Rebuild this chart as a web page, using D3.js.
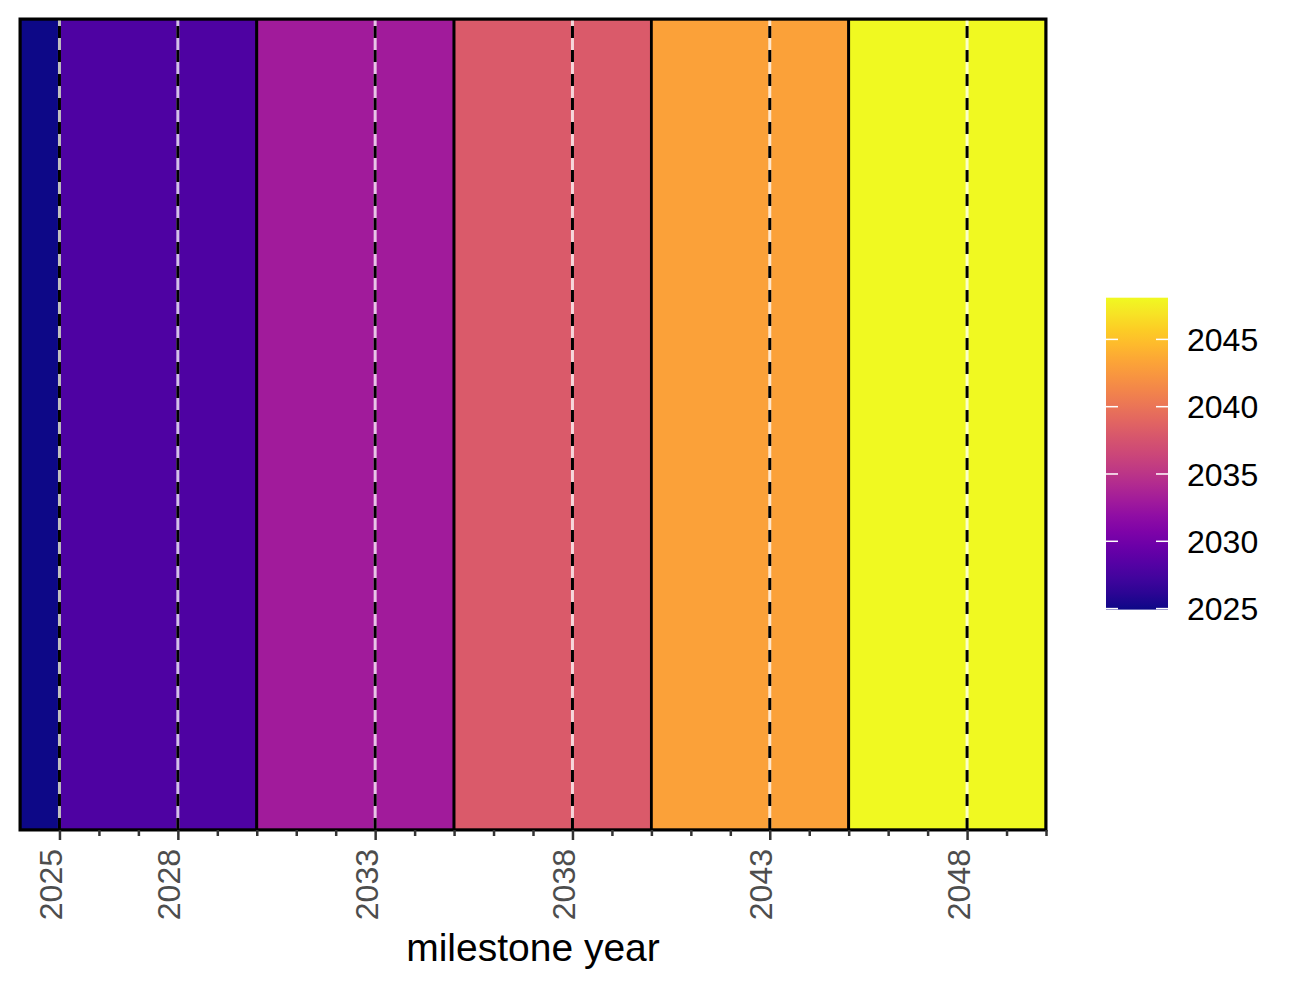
<!DOCTYPE html>
<html>
<head>
<meta charset="utf-8">
<script src="https://cdn.jsdelivr.net/npm/d3@7"></script>
<style>
  html, body { margin: 0; padding: 0; background: #fff; }
  svg { display: block; font-family: "Liberation Sans", Arial, sans-serif; }
</style>
</head>
<body>
<svg id="chart" width="1300" height="988"></svg>
<script>
// ---- data ----
const milestones   = [2025, 2028, 2033, 2038, 2043, 2048];
const periodStart  = [2024, 2025, 2030, 2035, 2040, 2045];
const periodEnd    = [2025, 2030, 2035, 2040, 2045, 2050];
const minorYears   = [2025, 2026, 2027, 2028, 2029, 2030, 2031, 2032, 2033, 2034, 2035, 2036, 2037,
                      2038, 2039, 2040, 2041, 2042, 2043, 2044, 2045, 2046, 2047, 2048, 2049, 2050];
const legendTicks  = [2025, 2030, 2035, 2040, 2045];
const xTitle = "milestone year";

// ---- layout ----
const P = { left: 20, right: 1046, top: 19, bottom: 830 };
const svg = d3.select("#chart");

const x = d3.scaleLinear().domain([2024, 2050]).range([P.left, P.right]);
const color = d3.scaleSequential(d3.interpolatePlasma).domain([2025, 2048]);

const tiles = milestones.map((m, i) => ({ m, s: periodStart[i], e: periodEnd[i] }));

const defs = svg.append("defs");
defs.append("clipPath").attr("id", "panelClip")
  .append("rect").attr("x", P.left).attr("y", P.top)
  .attr("width", P.right - P.left).attr("height", P.bottom - P.top);

const panel = svg.append("g").attr("clip-path", "url(#panelClip)");

panel.selectAll("rect.tile").data(tiles).join("rect")
  .attr("class", "tile")
  .attr("x", d => x(d.s)).attr("y", P.top)
  .attr("width", d => x(d.e) - x(d.s)).attr("height", P.bottom - P.top)
  .attr("fill", d => color(d.m))
  .attr("stroke", "#000").attr("stroke-width", 2.8);

// white under-line
panel.selectAll("line.vw").data(milestones).join("line")
  .attr("class", "vw")
  .attr("x1", d => x(d)).attr("x2", d => x(d))
  .attr("y1", P.bottom).attr("y2", P.top)
  .attr("stroke", "#fff").attr("stroke-opacity", 0.75).attr("stroke-width", 3);

// black dashed line
panel.selectAll("line.vd").data(milestones).join("line")
  .attr("class", "vd")
  .attr("x1", d => x(d)).attr("x2", d => x(d))
  .attr("y1", P.bottom).attr("y2", P.top)
  .attr("stroke", "#000").attr("stroke-width", 3)
  .attr("stroke-dasharray", "12,12");

// panel border
svg.append("rect")
  .attr("x", P.left).attr("y", P.top)
  .attr("width", P.right - P.left).attr("height", P.bottom - P.top)
  .attr("fill", "none").attr("stroke", "#000").attr("stroke-width", 3);

// ---- x axis ----
const minorAxis = svg.append("g").attr("transform", `translate(0,${P.bottom})`)
  .call(d3.axisBottom(x).tickValues(minorYears.filter(y => !milestones.includes(y)))
        .tickSize(6).tickFormat(""));
minorAxis.select(".domain").remove();
minorAxis.selectAll(".tick line").attr("stroke", "#333333").attr("stroke-width", 2.5);

const majorAxis = svg.append("g").attr("transform", `translate(0,${P.bottom})`)
  .call(d3.axisBottom(x).tickValues(milestones).tickSize(10).tickFormat(d3.format("d")));
majorAxis.select(".domain").remove();
majorAxis.selectAll(".tick line").attr("stroke", "#333333").attr("stroke-width", 2.5);
majorAxis.selectAll(".tick text")
  .attr("x", 0).attr("y", 0).attr("dy", null)
  .attr("transform", "translate(2,19) rotate(-90)")
  .attr("text-anchor", "end")
  .attr("fill", "#4D4D4D")
  .style("font-size", "32px")
  .style("font-family", "'Liberation Sans', Arial, sans-serif");

svg.append("text")
  .attr("x", (P.left + P.right) / 2).attr("y", 961)
  .attr("text-anchor", "middle")
  .style("font-size", "39px")
  .attr("fill", "#000")
  .text(xTitle);

// ---- legend ----
const L = { x: 1106, w: 62 };
const ly = d3.scaleLinear().domain([2025, 2048]).range([608.6, 299]);
const grad = defs.append("linearGradient").attr("id", "lg")
  .attr("x1", 0).attr("y1", 1).attr("x2", 0).attr("y2", 0);
d3.range(0, 1.0001, 0.05).forEach(t => {
  grad.append("stop").attr("offset", t).attr("stop-color", d3.interpolatePlasma(t));
});
svg.append("rect")
  .attr("x", L.x).attr("y", ly(2048) - 1.3)
  .attr("width", L.w).attr("height", ly(2025) - ly(2048) + 2.3)
  .attr("fill", "url(#lg)");

const lt = svg.append("g").selectAll("g").data(legendTicks).join("g");
lt.append("line")
  .attr("x1", L.x).attr("x2", L.x + 12)
  .attr("y1", d => ly(d)).attr("y2", d => ly(d))
  .attr("stroke", "#fff").attr("stroke-width", 1.5);
lt.append("line")
  .attr("x1", L.x + L.w - 12).attr("x2", L.x + L.w)
  .attr("y1", d => ly(d)).attr("y2", d => ly(d))
  .attr("stroke", "#fff").attr("stroke-width", 1.5);
lt.append("text")
  .attr("x", 1187).attr("y", d => ly(d)).attr("dy", "0.36em")
  .style("font-size", "32px").attr("fill", "#000")
  .text(d => d);
</script>
</body>
</html>
